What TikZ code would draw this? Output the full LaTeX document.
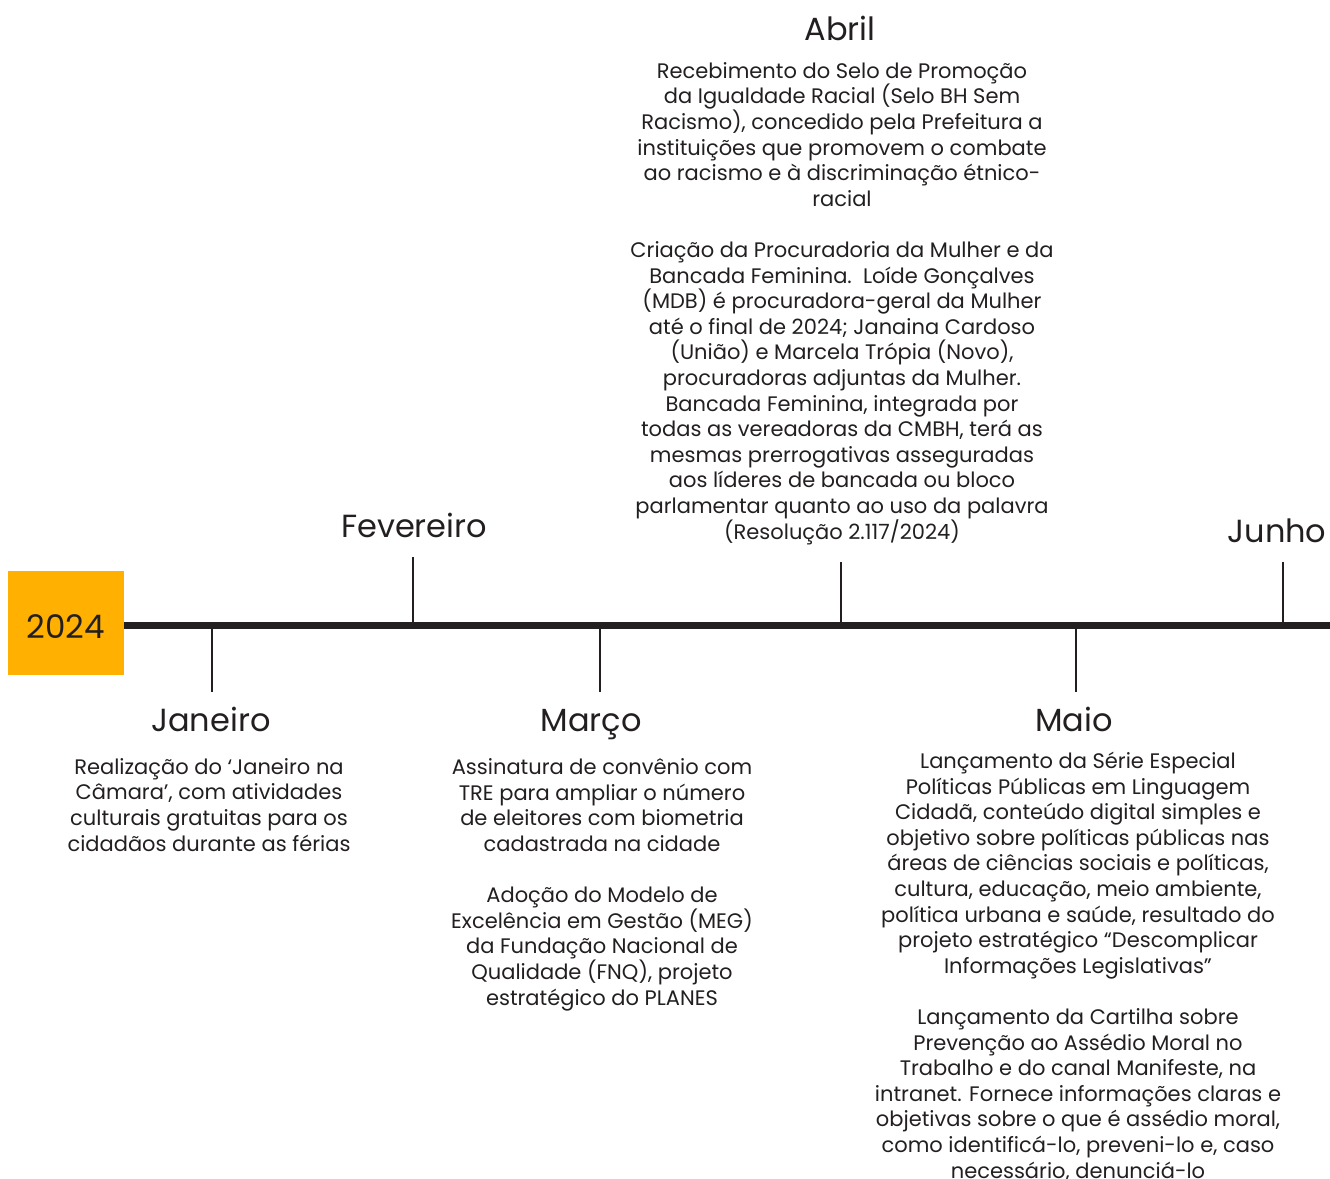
\documentclass[tikz,border=0pt]{standalone}
\usepackage{fontspec}
\setmainfont{Poppins}
\definecolor{ano}{HTML}{FFB000}
\definecolor{tinta}{HTML}{231F20}
\begin{document}
\begin{tikzpicture}[x=1pt,y=-1pt,line join=round,
	mes/.style={font=\fontsize{32}{38}\selectfont,text=tinta,anchor=base,inner sep=0pt},
	texto/.style={font=\fontsize{21}{25.6}\selectfont,text=tinta,align=center,anchor=base,inner sep=0pt},
	marca/.style={line width=2.5pt,draw=tinta}]
	\useasboundingbox (0,0) rectangle (1330,1178);
	% ano e eixo
	\node[fill=ano,minimum width=116pt,minimum height=104pt,inner sep=0pt] (ano) at (66,623) {};
	\node[font=\fontsize{32.5}{38}\selectfont,text=tinta,inner sep=0pt] (anotxt) at (66,627) {2024};
	\coordinate (fim) at (1330,625);
	\draw[line width=7pt,draw=tinta] (ano.east |- fim) -- (fim);
	% marcas
	\coordinate (jan) at (212,625); \coordinate (janb) at (212,692);
	\coordinate (fev) at (413,625); \coordinate (fevb) at (413,557);
	\coordinate (mar) at (600,625); \coordinate (marb) at (600,692);
	\coordinate (abr) at (841,625); \coordinate (abrb) at (841,562);
	\coordinate (mai) at (1076,625); \coordinate (maib) at (1076,692);
	\coordinate (jun) at (1283,625); \coordinate (junb) at (1283,562);
	\draw[marca] (jan)--(janb) (fev)--(fevb) (mar)--(marb) (abr)--(abrb) (mai)--(maib) (jun)--(junb);
	% meses
	\node[mes] (janeiro) at (211,731) {Janeiro};
	\node[mes] (fevereiro) at (414,537) {Fevereiro};
	\node[mes] (marco) at (591,731) {Março};
	\node[mes] (abril) at (840,40) {Abril};
	\node[mes] (maio) at (1074,731) {Maio};
	\node[mes] (junho) at (1277,542) {Junho};
	% textos (ancorados na linha de base da ultima linha)
	\node[texto] (txtjan) at (209,851) {Realização do ‘Janeiro na\\Câmara’, com atividades\\culturais gratuitas para os\\cidadãos durante as férias};
	\node[texto] (txtmar) at (602,1005) {Assinatura de convênio com\\TRE para ampliar o número\\de eleitores com biometria\\cadastrada na cidade\\[25.6pt]
		Adoção do Modelo de\\Excelência em Gestão (MEG)\\da Fundação Nacional de\\Qualidade (FNQ), projeto\\estratégico do PLANES};
	\node[texto] (txtabr) at (842,539) {Recebimento do Selo de Promoção\\da Igualdade Racial (Selo BH Sem\\Racismo), concedido pela Prefeitura a\\instituições que promovem o combate\\ao racismo e à discriminação étnico-\\racial\\[25.6pt]
		Criação da Procuradoria da Mulher e da\\Bancada Feminina.\ \ Loíde Gonçalves\\(MDB) é procuradora-geral da Mulher\\até o final de 2024; Janaina Cardoso\\(União) e Marcela Trópia (Novo),\\procuradoras adjuntas da Mulher.\\Bancada Feminina, integrada por\\todas as vereadoras da CMBH, terá as\\mesmas prerrogativas asseguradas\\aos líderes de bancada ou bloco\\parlamentar quanto ao uso da palavra\\(Resolução 2.117/2024)};
	\node[texto] (txtmai) at (1078,1178) {Lançamento da Série Especial\\Políticas Públicas em Linguagem\\Cidadã, conteúdo digital simples e\\objetivo sobre políticas públicas nas\\áreas de ciências sociais e políticas,\\cultura, educação, meio ambiente,\\política urbana e saúde, resultado do\\projeto estratégico “Descomplicar\\Informações Legislativas”\\[25.6pt]
		Lançamento da Cartilha sobre\\Prevenção ao Assédio Moral no\\Trabalho e do canal Manifeste, na\\intranet. Fornece informações claras e\\objetivas sobre o que é assédio moral,\\como identificá-lo, preveni-lo e, caso\\necessário, denunciá-lo};
\end{tikzpicture}
\end{document}
